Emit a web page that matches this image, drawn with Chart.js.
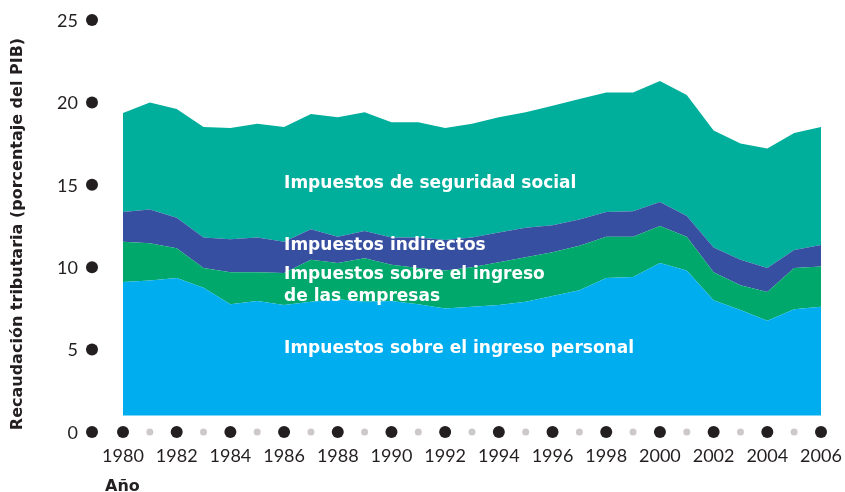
<!DOCTYPE html>
<html lang="es">
<head>
<meta charset="utf-8">
<title>Recaudación tributaria</title>
<script src="https://cdn.jsdelivr.net/npm/chart.js@4.4.1/dist/chart.umd.min.js"></script>
<style>
  html, body { margin: 0; padding: 0; background: #fff; }
  #wrap { width: 845px; height: 492px; position: relative; }
</style>
</head>
<body>
<div id="wrap"><canvas id="chart" width="845" height="492"></canvas></div>
<script>
// años del eje horizontal
const years = [1980, 1981, 1982, 1983, 1984, 1985, 1986, 1987, 1988, 1989,
  1990, 1991, 1992, 1993, 1994, 1995, 1996, 1997, 1998, 1999,
  2000, 2001, 2002, 2003, 2004, 2005, 2006];

// porcentaje del PIB por tipo de impuesto (capas apiladas)
const personal = [9.1, 9.2, 9.35, 8.75, 7.75, 7.95, 7.7, 7.9, 8.05, 7.9,
  7.95, 7.75, 7.5, 7.6, 7.7, 7.9, 8.25, 8.6, 9.35, 9.4,
  10.25, 9.8, 8.0, 7.4, 6.75, 7.45, 7.6];
const empresas = [2.45, 2.25, 1.8, 1.2, 1.95, 1.75, 1.95, 2.55, 2.2, 2.65,
  2.2, 2.2, 2.3, 2.4, 2.6, 2.7, 2.65, 2.7, 2.5, 2.45,
  2.25, 2.05, 1.7, 1.5, 1.75, 2.5, 2.45];
const indirectos = [1.8, 2.05, 1.85, 1.85, 2.0, 2.1, 1.9, 1.85, 1.6, 1.65,
  1.65, 1.85, 1.85, 1.8, 1.8, 1.8, 1.65, 1.6, 1.5, 1.55,
  1.45, 1.25, 1.5, 1.55, 1.45, 1.1, 1.3];
const seguridadSocial = [6.0, 6.5, 6.6, 6.7, 6.75, 6.9, 6.95, 7.0, 7.25, 7.2,
  7.0, 7.0, 6.8, 6.9, 7.0, 7.0, 7.25, 7.3, 7.25, 7.2,
  7.35, 7.35, 7.1, 7.05, 7.25, 7.1, 7.15];

const yTicks = [0, 5, 10, 15, 20, 25];
const yearLabels = [1980, 1982, 1984, 1986, 1988, 1990, 1992, 1994, 1996, 1998, 2000, 2002, 2004, 2006];

// rótulos dentro de las áreas: [texto, año, valor]
const areaLabels = [
  ['Impuestos de seguridad social', 1986, 15.1],
  ['Impuestos indirectos', 1986, 11.3],
  ['Impuestos sobre el ingreso', 1986, 9.53],
  ['de las empresas', 1986, 8.19],
  ['Impuestos sobre el ingreso personal', 1986, 5.04]
];

const FONT = 'Lato, "DejaVu Sans", sans-serif';
const BOLD_FONT = '"DejaVu Sans", sans-serif';
const INK = '#231f20';

const decorPlugin = {
  id: 'decor',
  afterDatasetsDraw(chart) {
    const ctx = chart.ctx;
    const xs = chart.scales.x;
    const ys = chart.scales.y;
    const y0 = ys.getPixelForValue(0);
    ctx.save();

    // textos blancos sobre las áreas
    ctx.fillStyle = '#ffffff';
    ctx.font = 'bold 17px ' + BOLD_FONT;
    ctx.textAlign = 'left';
    ctx.textBaseline = 'middle';
    areaLabels.forEach(([t, yr, v]) => {
      ctx.fillText(t, xs.getPixelForValue(years.indexOf(yr)), ys.getPixelForValue(v));
    });

    // eje vertical: puntos y números
    const axisX = 92;
    ctx.fillStyle = INK;
    ctx.font = '18px ' + FONT;
    ctx.textAlign = 'right';
    yTicks.forEach(v => {
      const py = ys.getPixelForValue(v);
      ctx.beginPath();
      ctx.arc(axisX, py, 6, 0, Math.PI * 2);
      ctx.fill();
      ctx.fillText(String(v), 78, py + 1);
    });

    // eje horizontal: puntos grandes en años pares, pequeños en impares
    years.forEach((yr, i) => {
      const px = xs.getPixelForValue(i);
      ctx.beginPath();
      if (yr % 2 === 0) {
        ctx.fillStyle = INK;
        ctx.arc(px, y0, 6, 0, Math.PI * 2);
      } else {
        ctx.fillStyle = '#cdc8cc';
        ctx.arc(px, y0, 3.5, 0, Math.PI * 2);
      }
      ctx.fill();
    });

    ctx.fillStyle = INK;
    ctx.textAlign = 'center';
    yearLabels.forEach(yr => {
      ctx.fillText(String(yr), xs.getPixelForValue(years.indexOf(yr)), y0 + 24);
    });

    // títulos de los ejes
    ctx.font = 'bold 16px ' + BOLD_FONT;
    ctx.textAlign = 'left';
    ctx.fillText('Año', 105, 487);

    ctx.translate(18, 234);
    ctx.rotate(-Math.PI / 2);
    ctx.textAlign = 'center';
    ctx.fillText('Recaudación tributaria (porcentaje del PIB)', 0, 0);
    ctx.restore();
  }
};

function layer(label, data, color, fill) {
  return {
    label, data, fill,
    backgroundColor: color,
    borderColor: color,
    borderWidth: 0,
    pointRadius: 0,
    tension: 0
  };
}

new Chart(document.getElementById('chart'), {
  type: 'line',
  data: {
    labels: years,
    datasets: [
      layer('Impuestos sobre el ingreso personal', personal, '#00aeef', { value: 1 }),
      layer('Impuestos sobre el ingreso de las empresas', empresas, '#00a96b', '-1'),
      layer('Impuestos indirectos', indirectos, '#364fa0', '-1'),
      layer('Impuestos de seguridad social', seguridadSocial, '#00ae9c', '-1')
    ]
  },
  options: {
    responsive: false,
    animation: false,
    layout: { padding: { left: 123, right: 24, top: 20, bottom: 60 } },
    plugins: { legend: { display: false }, tooltip: { enabled: false } },
    scales: {
      x: { display: false, offset: false },
      y: { display: false, stacked: true, min: 0, max: 25 }
    }
  },
  plugins: [decorPlugin]
});
</script>
</body>
</html>
